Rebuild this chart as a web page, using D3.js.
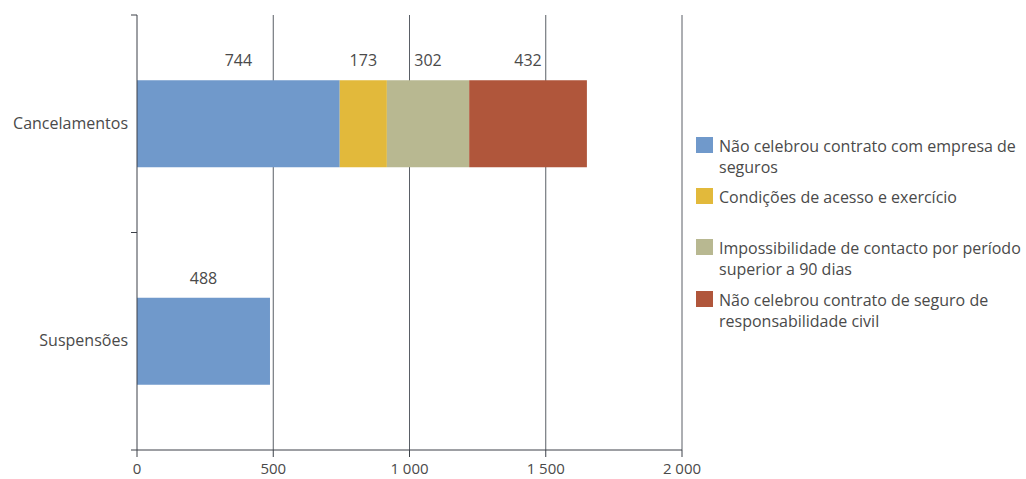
<!DOCTYPE html>
<html>
<head>
<meta charset="utf-8">
<script src="https://cdn.jsdelivr.net/npm/d3@7"></script>
<style>
  body { margin: 0; background: #fff; }
  svg text { font-family: "Open Sans", "Noto Sans", sans-serif; fill: #4a4a4a; }
</style>
</head>
<body>
<div class="chart"></div>
<script>
// categories and series
var categories = ["Cancelamentos", "Suspensões"];
var seriesNames = [
  ["Não celebrou contrato com empresa de", "seguros"],
  ["Condições de acesso e exercício"],
  ["Impossibilidade de contacto por período", "superior a 90 dias"],
  ["Não celebrou contrato de seguro de", "responsabilidade civil"]
];
var naoCelebrouEmpresa = [744, 488];
var condicoesAcesso = [173, 0];
var impossibilidadeContacto = [302, 0];
var naoCelebrouSeguro = [432, 0];
var xTicks = [0, 500, 1000, 1500, 2000];

var colors = ["#7099cb", "#e2b93b", "#b8b891", "#b0563b"];

var width = 1026, height = 479;
var svg = d3.select(".chart").append("svg")
  .attr("width", width)
  .attr("height", height);

var x = d3.scaleLinear().domain([0, 2000]).range([137, 682]);
var y = d3.scaleBand().domain(categories).range([15, 450])
  .paddingInner(0.6).paddingOuter(0.3);

var fmt = function (v) { return d3.format(",")(v).replace(/,/g, " "); };

// vertical grid lines
svg.append("g").selectAll("line")
  .data(xTicks.slice(1))
  .enter().append("line")
  .attr("x1", d => x(d)).attr("x2", d => x(d))
  .attr("y1", 15).attr("y2", 450)
  .attr("stroke", "#5a5f66").attr("stroke-width", 1);

// stacked data
var table = categories.map(function (c, i) {
  return {
    cat: c,
    s0: naoCelebrouEmpresa[i],
    s1: condicoesAcesso[i],
    s2: impossibilidadeContacto[i],
    s3: naoCelebrouSeguro[i]
  };
});
var stack = d3.stack().keys(["s0", "s1", "s2", "s3"])(table);

var layers = svg.append("g").selectAll("g")
  .data(stack)
  .enter().append("g")
  .attr("fill", (d, i) => colors[i]);

layers.selectAll("rect")
  .data(d => d.filter(p => p[1] > p[0]))
  .enter().append("rect")
  .attr("x", d => x(d[0]))
  .attr("width", d => x(d[1]) - x(d[0]))
  .attr("y", d => y(d.data.cat))
  .attr("height", y.bandwidth());

layers.selectAll("text")
  .data(d => d.filter(p => p[1] > p[0]))
  .enter().append("text")
  .attr("x", d => (x(d[0]) + x(d[1])) / 2)
  .attr("y", d => y(d.data.cat) - 14)
  .attr("text-anchor", "middle")
  .style("font-size", "16px")
  .text(d => d[1] - d[0]);

// x axis
var xAxis = svg.append("g");
xAxis.append("line")
  .attr("x1", 131).attr("x2", x(2000))
  .attr("y1", 450).attr("y2", 450)
  .attr("stroke", "#3c4148");
xAxis.selectAll(".tk")
  .data(xTicks)
  .enter().append("line")
  .attr("x1", d => x(d)).attr("x2", d => x(d))
  .attr("y1", 450).attr("y2", 457)
  .attr("stroke", "#3c4148");
xAxis.selectAll("text")
  .data(xTicks)
  .enter().append("text")
  .attr("x", d => x(d))
  .attr("y", 474)
  .attr("text-anchor", "middle")
  .style("font-size", "15px")
  .text(fmt);

// y axis
var yAxis = svg.append("g");
yAxis.append("line")
  .attr("x1", 137).attr("x2", 137)
  .attr("y1", 15).attr("y2", 450)
  .attr("stroke", "#3c4148");
yAxis.selectAll(".tk")
  .data([15, 232.5])
  .enter().append("line")
  .attr("x1", 131).attr("x2", 137)
  .attr("y1", d => d).attr("y2", d => d)
  .attr("stroke", "#3c4148");
yAxis.selectAll("text")
  .data(categories)
  .enter().append("text")
  .attr("x", 128)
  .attr("y", d => y(d) + y.bandwidth() / 2 + 5)
  .attr("text-anchor", "end")
  .style("font-size", "16px")
  .text(d => d);

// legend
var legendTop = [137, 188, 239, 291];
var legend = svg.append("g").selectAll("g")
  .data(seriesNames)
  .enter().append("g")
  .attr("transform", (d, i) => "translate(696," + legendTop[i] + ")");
legend.append("rect")
  .attr("width", 17).attr("height", 16)
  .attr("fill", (d, i) => colors[i]);
legend.append("text")
  .attr("x", 23)
  .style("font-size", "16px")
  .selectAll("tspan")
  .data(d => d)
  .enter().append("tspan")
  .attr("x", 23)
  .attr("y", (d, j) => 15 + j * 21)
  .text(d => d);
</script>
</body>
</html>
